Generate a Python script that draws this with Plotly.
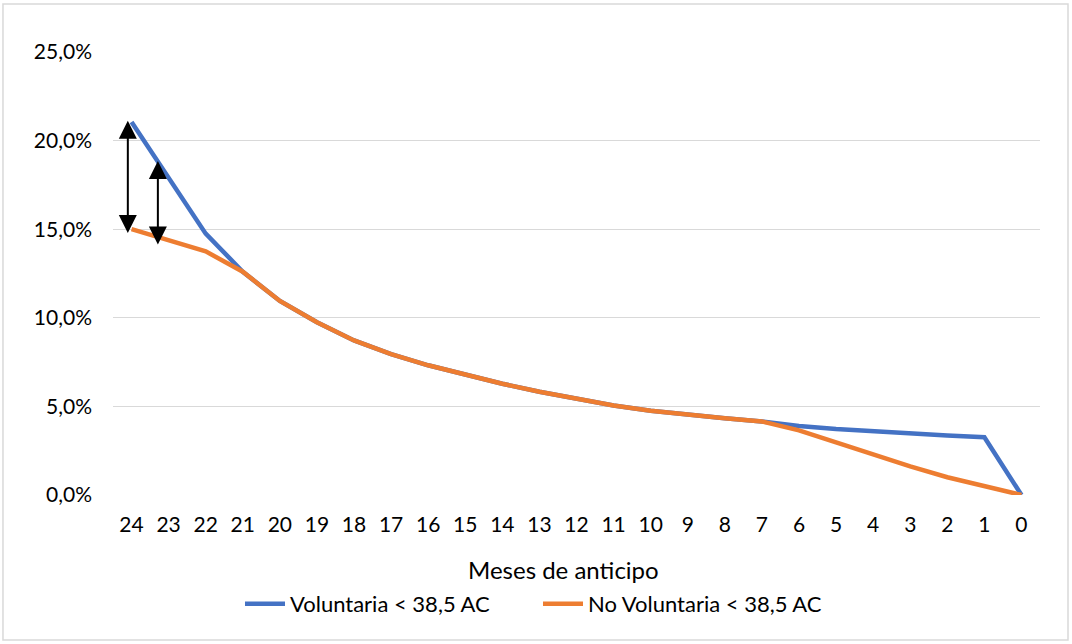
import plotly.graph_objects as go

months = ["24", "23", "22", "21", "20", "19", "18", "17", "16", "15", "14", "13",
          "12", "11", "10", "9", "8", "7", "6", "5", "4", "3", "2", "1", "0"]
voluntaria = [21.05, 17.9, 14.75, 12.6, 10.95, 9.75, 8.72, 7.95, 7.32, 6.8, 6.28, 5.83,
              5.42, 5.05, 4.76, 4.52, 4.33, 4.15, 3.9, 3.72, 3.58, 3.46, 3.36, 3.26, 0.0]
no_voluntaria = [15.0, 14.4, 13.75, 12.6, 10.95, 9.75, 8.72, 7.95, 7.32, 6.8, 6.28, 5.83,
                 5.42, 5.05, 4.76, 4.52, 4.33, 4.15, 3.65, 2.97, 2.28, 1.62, 1.0, 0.5, 0.0]
series_names = ["Voluntaria < 38,5 AC", "No Voluntaria < 38,5 AC"]
y_ticks = [0, 5, 10, 15, 20, 25]
# double arrows: (x index, top %, bottom %)
arrows = [(-0.10, 21.12, 14.7), (0.71, 18.85, 14.05)]

FONT = "Lato"
xs = list(range(len(months)))

fig = go.Figure()
fig.add_trace(go.Scatter(x=xs, y=[v / 100 for v in voluntaria], mode="lines",
                         name=series_names[0],
                         line=dict(color="#4472C4", width=4.5)))
fig.add_trace(go.Scatter(x=xs, y=[v / 100 for v in no_voluntaria], mode="lines",
                         name=series_names[1],
                         line=dict(color="#ED7D31", width=4.5)))

for ax_x, top, bot in arrows:
    fig.add_annotation(x=ax_x, y=top / 100, ax=ax_x, ay=bot / 100,
                       xref="x", yref="y", axref="x", ayref="y",
                       showarrow=True, arrowside="end+start", arrowhead=2,
                       arrowsize=1.8, arrowwidth=2, arrowcolor="black",
                       standoff=0, startstandoff=0, text="")

fig.add_annotation(text="Meses de anticipo", xref="paper", yref="paper",
                   x=0.4865, y=-0.169, xanchor="center", yanchor="middle",
                   showarrow=False, font=dict(family=FONT, size=24, color="#000000"))

fig.add_shape(type="rect", xref="paper", yref="paper",
              x0=-0.1187, x1=1.0302, y0=-0.3273, y1=1.1084,
              line=dict(color="#d9d9d9", width=1.5))

fig.update_layout(
    width=1072, height=644,
    margin=dict(l=113, r=32, t=52, b=149),
    paper_bgcolor="white", plot_bgcolor="white",
    separators=",.",
    font=dict(family=FONT, size=21, color="#000000"),
    showlegend=True,
    legend=dict(orientation="h", x=0.137, xanchor="left", y=-0.246, yanchor="middle",
                font=dict(family=FONT, size=22), itemwidth=40,
                entrywidth=243, entrywidthmode="pixels",
                bgcolor="rgba(0,0,0,0)"),
    xaxis=dict(range=[-0.5, len(months) - 0.5], tickmode="array", tickvals=xs,
               ticktext=months, showgrid=False, zeroline=False, showline=False,
               ticks="", ticklabelstandoff=15, fixedrange=True),
    yaxis=dict(range=[0, 0.25], tickmode="array", tickvals=[t / 100 for t in y_ticks],
               tickformat=".1%", showgrid=True, gridcolor="#d9d9d9", gridwidth=1,
               zeroline=False, showline=False, ticks="", ticklabelstandoff=20,
               fixedrange=True),
)

fig.write_html("out.html", config={"displayModeBar": False},
               post_script="document.body.style.margin='0px';")
